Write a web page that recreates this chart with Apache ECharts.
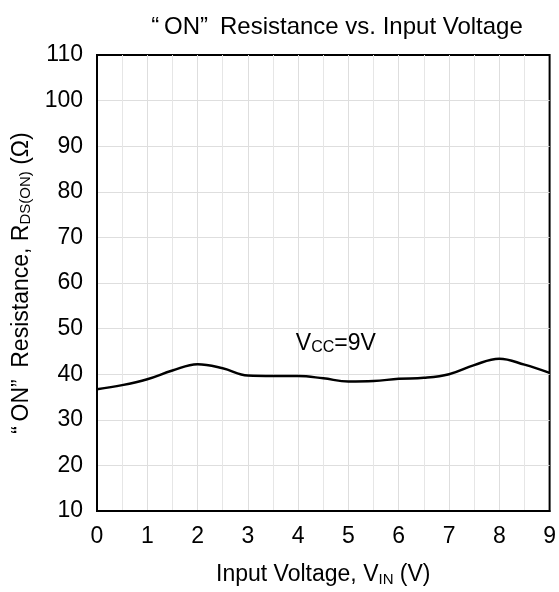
<!DOCTYPE html>
<html>
<head>
<meta charset="utf-8">
<script src="https://cdn.jsdelivr.net/npm/echarts@6/dist/echarts.min.js"></script>
<style>
  html, body { margin: 0; padding: 0; background: #fff; }
  #myChart { width: 559px; height: 592px; }
</style>
</head>
<body>
<div id="myChart"></div>
<script>
// input voltage (V)
var vin = [0, 0.5, 1, 1.5, 2, 2.5, 3, 3.5, 4, 4.5, 5, 5.5, 6, 6.5, 7, 7.5, 8, 8.5, 9]
// on resistance (ohm), Vcc = 9V
var rdsOn = [36.7, 37.6, 38.9, 40.8, 42.2, 41.3, 39.7, 39.6, 39.6, 39.1, 38.4, 38.5, 39.0, 39.2, 40.0, 42.0, 43.4, 42.1, 40.3]
var yTicks = [10, 110, 10] // min, max, interval
var xTicks = [0, 9, 1]
var labelPos = [4.75, 46.8]

var font = 'Liberation Sans, Arial, sans-serif'
var points = vin.map(function (v, i) { return [v, rdsOn[i]] })

// rich text styles shared by title / axis names
function richStyle (size, subSize) {
  return {
    s: { fontFamily: font, fontSize: size, color: '#000' },
    sub: { fontFamily: font, fontSize: subSize, color: '#000', verticalAlign: 'bottom', padding: [Math.round(size * 0.4), 0, 0, 0] }
  }
}

var myChart = echarts.init(document.getElementById('myChart'))
myChart.setOption({
  animation: false,
  backgroundColor: '#fff',
  title: {
    text: '{s|“\u2009ON”\u2002Resistance vs. Input Voltage}',
    left: 332,
    textAlign: 'center',
    top: 10,
    textStyle: { fontFamily: font, fontSize: 24, fontWeight: 'normal', color: '#000', rich: richStyle(24, 16) }
  },
  grid: {
    left: 97,
    right: 7,
    top: 55,
    bottom: 81,
    show: true,
    borderColor: '#000',
    borderWidth: 2
  },
  xAxis: {
    type: 'value',
    min: xTicks[0],
    max: xTicks[1],
    interval: xTicks[2],
    name: '{s|Input Voltage, V}{sub|IN}{s| (V)}',
    nameLocation: 'middle',
    nameGap: 52,
    nameTextStyle: { fontFamily: font, fontSize: 23, color: '#000', rich: richStyle(23, 15) },
    axisLine: { show: true, lineStyle: { color: '#000', width: 2 } },
    axisTick: { show: false },
    axisLabel: { fontFamily: font, fontSize: 23, color: '#000', margin: 14 },
    splitLine: { show: true, showMinLine: false, showMaxLine: false, lineStyle: { color: '#dedede', width: 1 } },
    minorTick: { show: false, splitNumber: 2 },
    minorSplitLine: { show: true, lineStyle: { color: '#e6e6e6', width: 1 } }
  },
  yAxis: {
    type: 'value',
    min: yTicks[0],
    max: yTicks[1],
    interval: yTicks[2],
    name: '{s|“\u2009ON”\u2002Resistance, R}{sub|DS(ON)}{s| (Ω)}',
    nameLocation: 'middle',
    nameGap: 61,
    nameTextStyle: { fontFamily: font, fontSize: 23, color: '#000', rich: richStyle(23, 15) },
    axisLine: { show: true, lineStyle: { color: '#000', width: 2 } },
    axisTick: { show: false },
    axisLabel: { fontFamily: font, fontSize: 23, color: '#000', margin: 14 },
    splitLine: { show: true, showMinLine: false, showMaxLine: false, lineStyle: { color: '#dedede', width: 1 } }
  },
  series: [
    {
      name: 'VCC=9V',
      type: 'line',
      data: points,
      smooth: 0.4,
      showSymbol: false,
      lineStyle: { color: '#000', width: 2.5 },
      markPoint: {
        symbol: 'circle',
        symbolSize: 1,
        itemStyle: { color: 'rgba(0,0,0,0)' },
        data: [{ coord: labelPos }],
        label: {
          show: true,
          position: 'inside',
          formatter: '{s|V}{sub|CC}{s|=9V}',
          rich: richStyle(23, 16)
        }
      }
    }
  ]
})
</script>
</body>
</html>
